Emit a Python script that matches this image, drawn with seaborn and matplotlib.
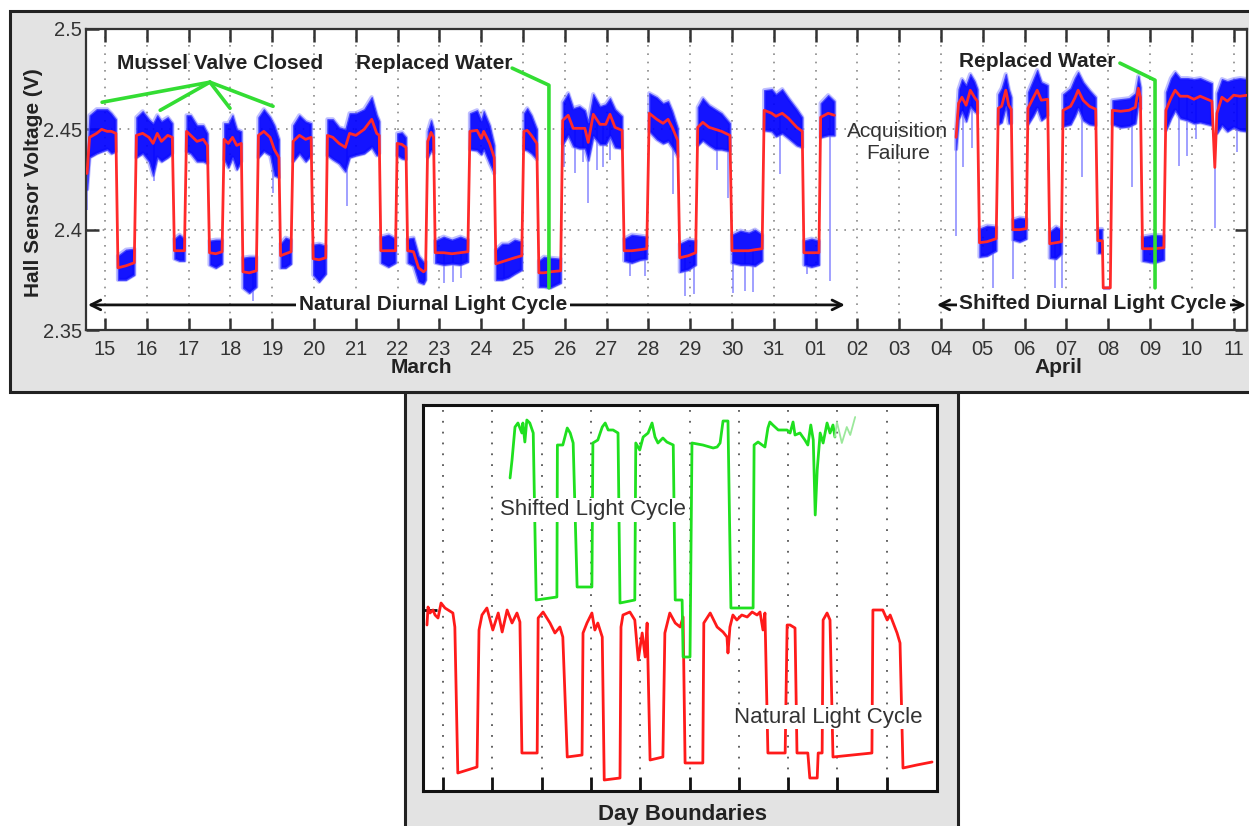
import numpy as np
import matplotlib
matplotlib.use("Agg")
import matplotlib.pyplot as plt
import matplotlib.transforms as mtransforms
from matplotlib.patches import Rectangle
import seaborn as sns

sns.set_style("white")
plt.rcParams["font.family"] = ["Liberation Sans", "DejaVu Sans"]

# ---------------------------------------------------------------------------
# Upper panel: Hall sensor voltage, 15 March - 11 April (day counted from 1 March)
# Smoothed trace (V) and spread of the raw samples above / below it (mV)
# ---------------------------------------------------------------------------
mar_day = [
    14.57, 14.63, 14.80, 14.92, 15.05, 15.15, 15.26,
    15.31, 15.50, 15.70,
    15.75, 15.90, 16.05, 16.15, 16.25, 16.35, 16.50, 16.61,
    16.66, 16.78, 16.90,
    16.95, 17.05, 17.20, 17.35, 17.45,
    17.50, 17.65, 17.80,
    17.85, 17.95, 18.05, 18.15, 18.26,
    18.30, 18.45, 18.62,
    18.67, 18.80, 18.95, 19.05, 19.16,
    19.20, 19.32, 19.45,
    19.50, 19.65, 19.80, 19.93,
    19.98, 20.12, 20.28,
    20.32, 20.45, 20.60, 20.75, 20.85, 21.00, 21.20, 21.38, 21.50, 21.56,
    21.60, 21.78, 21.95,
    21.99, 22.10, 22.20,
    22.24, 22.38, 22.50, 22.62, 22.67,
    22.72, 22.80, 22.86,
    22.90, 23.10, 23.30, 23.50, 23.68,
    23.73, 23.90, 24.00, 24.06, 24.20, 24.31,
    24.35, 24.50, 24.65, 24.80, 24.97,
    25.02, 25.10, 25.20, 25.33,
    25.38, 25.50, 25.65, 25.90,
    25.95, 26.08, 26.20, 26.35, 26.48, 26.56, 26.68, 26.84, 26.98, 27.08, 27.20, 27.37,
    27.42, 27.60, 27.80, 27.96,
    28.02, 28.20, 28.35, 28.47, 28.57, 28.70,
    28.75, 28.95, 29.13,
    29.18, 29.30, 29.45, 29.60, 29.75, 29.95,
    30.00, 30.20, 30.40, 30.55, 30.72,
    30.77, 30.95, 31.05, 31.20, 31.35, 31.55, 31.68,
    31.72, 31.90, 32.08,
    32.12, 32.30, 32.45,
]
mar_volt = [
    2.428, 2.446, 2.448, 2.450, 2.449, 2.449, 2.448,
    2.381, 2.382, 2.3835,
    2.447, 2.448, 2.446, 2.443, 2.448, 2.444, 2.447, 2.446,
    2.3895, 2.3895, 2.3895,
    2.449, 2.447, 2.444, 2.445, 2.442,
    2.3885, 2.388, 2.389,
    2.445, 2.443, 2.446, 2.442, 2.443,
    2.379, 2.3785, 2.3795,
    2.447, 2.449, 2.446, 2.440, 2.436,
    2.387, 2.388, 2.389,
    2.444, 2.447, 2.445, 2.446,
    2.3855, 2.385, 2.386,
    2.447, 2.446, 2.443, 2.441, 2.448, 2.447, 2.450, 2.455, 2.448, 2.447,
    2.3895, 2.3895, 2.3895,
    2.443, 2.4425, 2.441,
    2.3895, 2.389, 2.381, 2.379, 2.380,
    2.444, 2.4485, 2.446,
    2.3885, 2.3885, 2.388, 2.3885, 2.389,
    2.449, 2.4495, 2.4455, 2.449, 2.443, 2.436,
    2.383, 2.384, 2.385, 2.386, 2.387,
    2.449, 2.4495, 2.447, 2.443,
    2.3785, 2.3785, 2.379, 2.3795,
    2.4545, 2.457, 2.4505, 2.4505, 2.4505, 2.4435, 2.4575, 2.4525, 2.4525, 2.4575, 2.451, 2.4495,
    2.3895, 2.3895, 2.390, 2.3905,
    2.458, 2.455, 2.453, 2.455, 2.451, 2.4445,
    2.386, 2.387, 2.3885,
    2.451, 2.4535, 2.451, 2.450, 2.449, 2.447,
    2.3895, 2.3895, 2.3895, 2.390, 2.3905,
    2.4595, 2.458, 2.4565, 2.458, 2.4555, 2.451, 2.449,
    2.3885, 2.3885, 2.3885,
    2.456, 2.458, 2.457,
]
mar_up = [
    5, 11, 12, 10, 11, 9, 7,
    6, 8, 7,
    9, 11, 9, 10, 9, 10, 9, 7,
    6, 8, 6,
    8, 10, 8, 7, 6,
    6, 7, 6,
    8, 10, 11, 8, 6,
    7, 8, 7,
    9, 11, 10, 12, 9,
    6, 8, 6,
    8, 10, 9, 7,
    7, 8, 6,
    8, 9, 8, 9, 10, 11, 10, 11, 9, 7,
    7, 8, 6,
    5, 6, 5,
    6, 7, 6, 5, 4,
    5, 6, 4,
    6, 8, 7, 8, 6,
    9, 10, 9, 10, 9, 6,
    7, 9, 8, 9, 7,
    9, 11, 10, 7,
    6, 8, 7, 6,
    9, 11, 10, 11, 9, 10, 10, 9, 10, 8, 9, 7,
    6, 8, 7, 6,
    10, 11, 10, 9, 8, 6,
    7, 8, 6,
    10, 12, 11, 10, 9, 6,
    8, 10, 9, 10, 7,
    10, 12, 11, 12, 10, 9, 7,
    6, 7, 6,
    7, 9, 7,
]
mar_dn = [
    8, 10, 10, 11, 9, 11, 9,
    6, 7, 6,
    11, 10, 12, 16, 12, 10, 11, 8,
    4, 5, 5,
    10, 9, 10, 11, 9,
    6, 7, 6,
    10, 12, 10, 12, 9,
    8, 10, 8,
    11, 10, 9, 13, 10,
    6, 7, 6,
    10, 9, 11, 9,
    8, 11, 8,
    10, 11, 10, 12, 12, 10, 12, 14, 11, 9,
    6, 8, 6,
    6, 7, 6,
    6, 7, 7, 6, 5,
    8, 9, 8,
    5, 6, 5, 6, 5,
    9, 10, 8, 9, 10, 8,
    8, 9, 9, 8, 7,
    9, 10, 9, 8,
    7, 7, 8, 6,
    12, 10, 9, 10, 10, 9, 11, 10, 10, 11, 10, 9,
    5, 6, 5, 5,
    9, 10, 10, 11, 10, 8,
    7, 7, 6,
    9, 9, 9, 10, 9, 8,
    6, 7, 7, 8, 6,
    10, 9, 10, 10, 10, 9, 8,
    6, 7, 6,
    10, 11, 10,
]

apr_day = [
    35.36, 35.42, 35.50, 35.60, 35.70, 35.80, 35.87,
    35.92, 36.10, 36.32,
    36.37, 36.45, 36.55, 36.62, 36.68,
    36.72, 36.88, 37.04,
    37.08, 37.20, 37.30, 37.40, 37.55,
    37.60, 37.75, 37.88,
    37.92, 38.10, 38.20, 38.28, 38.40, 38.55, 38.70,
    38.75, 38.86, 38.88, 39.05,
    39.10, 39.30, 39.50, 39.65, 39.72, 39.77,
    39.82, 40.10, 40.33,
    40.38, 40.50, 40.60, 40.72, 40.90, 41.05, 41.20, 41.48, 41.55, 41.60, 41.72, 41.85, 42.00, 42.15, 42.33,
]
apr_volt = [
    2.446, 2.463, 2.466, 2.462, 2.4695, 2.466, 2.464,
    2.3935, 2.394, 2.3955,
    2.4605, 2.4615, 2.4695, 2.462, 2.460,
    2.400, 2.400, 2.4005,
    2.4605, 2.4655, 2.4695, 2.4645, 2.465,
    2.393, 2.3935, 2.394,
    2.4595, 2.4615, 2.4655, 2.4695, 2.4645, 2.4615, 2.460,
    2.3945, 2.3945, 2.371, 2.371,
    2.4595, 2.459, 2.4595, 2.461, 2.4705, 2.466,
    2.3905, 2.3905, 2.391,
    2.4595, 2.4655, 2.4695, 2.4665, 2.4665, 2.465, 2.4665, 2.464, 2.431, 2.458, 2.466, 2.464, 2.467, 2.4665, 2.467,
]
apr_up = [
    3, 7, 9, 10, 8, 8, 6,
    7, 8, 6,
    7, 9, 8, 8, 6,
    5, 6, 5,
    8, 9, 10, 9, 7,
    6, 8, 6,
    8, 9, 10, 9, 9, 8, 6,
    6, 6, 0, 0,
    5, 6, 6, 7, 6, 5,
    6, 7, 6,
    9, 10, 9, 9, 9, 10, 9, 9, 0, 10, 9, 10, 8, 9, 8,
]
apr_dn = [
    6, 8, 7, 8, 8, 7, 6,
    7, 7, 6,
    8, 8, 8, 9, 7,
    5, 6, 5,
    8, 9, 9, 10, 8,
    7, 8, 6,
    8, 9, 9, 9, 10, 9, 8,
    6, 6, 0, 0,
    7, 8, 8, 8, 7, 6,
    6, 7, 6,
    10, 10, 10, 11, 12, 12, 13, 12, 0, 10, 14, 15, 16, 17, 18,
]

# isolated outlier samples (day, lowest voltage reached)
spike_day = [14.57, 16.18, 18.54, 19.02, 20.79, 23.10, 23.32, 23.52, 24.55, 25.97,
             26.24, 26.44, 26.56, 26.77, 26.91, 27.08, 27.56, 27.92, 28.59, 28.87,
             29.08, 29.64, 29.90, 30.02, 30.31, 30.50, 31.15, 31.80, 32.35,
             35.37, 35.53, 35.74, 36.24, 36.72, 37.56, 37.73, 37.90, 38.37, 39.57,
             40.70, 40.88, 41.10, 41.56, 42.07]
spike_tip = [2.410, 2.4245, 2.3645, 2.4185, 2.412, 2.3735, 2.374, 2.376, 2.376, 2.431,
             2.428, 2.4335, 2.4135, 2.4295, 2.431, 2.4345, 2.377, 2.377, 2.418, 2.367,
             2.368, 2.4295, 2.416, 2.3685, 2.3695, 2.369, 2.4275, 2.378, 2.3745,
             2.397, 2.431, 2.4405, 2.371, 2.3755, 2.4295, 2.371, 2.371, 2.426, 2.4215,
             2.4315, 2.4365, 2.445, 2.401, 2.4385]

tick_days = list(range(15, 43))
tick_labels = ["15", "16", "17", "18", "19", "20", "21", "22", "23", "24", "25", "26",
               "27", "28", "29", "30", "31", "01", "02", "03", "04", "05", "06", "07",
               "08", "09", "10", "11"]
volt_ticks = [2.35, 2.4, 2.45, 2.5]
volt_tick_labels = ["2.35", "2.4", "2.45", "2.5"]

# ---------------------------------------------------------------------------
# Lower panel: daily cycles aligned on day boundaries
# ---------------------------------------------------------------------------
nat_day = [
    0.675, 0.696, 0.736, 0.797, 0.838, 0.899, 0.96, 1.04, 1.20, 1.24,
    1.30, 1.69,
    1.73, 1.79, 1.89, 2.01, 2.12, 2.20, 2.30, 2.40, 2.50, 2.56,
    2.60, 2.91,
    2.93, 3.03, 3.17, 3.27, 3.37, 3.43,
    3.52, 3.82,
    3.84, 3.92, 4.02, 4.08, 4.14, 4.23,
    4.27, 4.59,
    4.61, 4.65, 4.79, 4.89, 4.96, 5.04, 5.10, 5.14,
    5.20, 5.46,
    5.50, 5.60, 5.71, 5.81, 5.87,
    5.91, 6.27,
    6.29, 6.42, 6.56, 6.68, 6.76, 6.78, 6.82, 6.88, 6.96, 7.06, 7.17, 7.27, 7.37, 7.43, 7.49, 7.53,
    7.59, 7.94,
    7.98, 8.04, 8.14,
    8.18, 8.40, 8.44, 8.59, 8.61, 8.69,
    8.71, 8.79, 8.85,
    8.91, 9.70,
    9.72, 9.92, 10.01, 10.07, 10.21, 10.27,
    10.33, 10.61, 10.92,
]
nat_volt = [
    2.4425, 2.4515, 2.4485, 2.450, 2.4475, 2.446, 2.4535, 2.451, 2.4485, 2.4415,
    2.3685, 2.3715,
    2.440, 2.4475, 2.451, 2.440, 2.4485, 2.439, 2.450, 2.4435, 2.4485, 2.444,
    2.3785, 2.3785,
    2.446, 2.449, 2.4435, 2.4385, 2.4415, 2.4365,
    2.3765, 2.3775,
    2.4385, 2.4435, 2.4485, 2.440, 2.4435, 2.4365,
    2.365, 2.366,
    2.4415, 2.4475, 2.449, 2.445, 2.425, 2.4385, 2.4265, 2.4435,
    2.375, 2.3765,
    2.4385, 2.4485, 2.4435, 2.4415, 2.4465,
    2.3735, 2.3735,
    2.4435, 2.4485, 2.4415, 2.439, 2.4365, 2.4285, 2.4415, 2.4475, 2.445, 2.4475, 2.4465, 2.449, 2.4475, 2.449, 2.440, 2.4485,
    2.3785, 2.3785,
    2.4425, 2.4425, 2.441,
    2.3785, 2.3785, 2.366, 2.366, 2.3785, 2.3785,
    2.445, 2.4485, 2.445,
    2.3765, 2.3785,
    2.450, 2.450, 2.445, 2.4475, 2.4385, 2.4335,
    2.371, 2.3725, 2.374,
]
shift_day = [
    2.36, 2.40, 2.46, 2.52, 2.60, 2.62, 2.66, 2.70, 2.76, 2.83,
    2.89, 3.31,
    3.32, 3.43, 3.52, 3.58, 3.64,
    3.72, 4.02,
    4.04, 4.14, 4.23, 4.29, 4.35, 4.45, 4.55,
    4.59, 4.89,
    4.91, 4.99, 5.06, 5.16, 5.24, 5.30, 5.36, 5.46, 5.54, 5.67,
    5.71, 5.85, 5.87, 6.01,
    6.05, 6.27, 6.48, 6.56, 6.62, 6.68, 6.78,
    6.84, 7.29,
    7.31, 7.39, 7.53, 7.59, 7.63, 7.69, 7.80, 7.98, 8.04, 8.10, 8.14, 8.24,
    8.34, 8.40, 8.46, 8.51, 8.55, 8.59, 8.65, 8.71, 8.79, 8.85, 8.91, 8.95,
]
shift_volt = [
    2.516, 2.525, 2.5415, 2.5435, 2.5385, 2.5435, 2.534, 2.545, 2.5435, 2.5385,
    2.455, 2.4565,
    2.5325, 2.5325, 2.541, 2.5385, 2.5335,
    2.4615, 2.4615,
    2.5335, 2.535, 2.5415, 2.5435, 2.540, 2.540, 2.5385,
    2.4535, 2.455,
    2.5335, 2.530, 2.5365, 2.5385, 2.5435, 2.5365, 2.5335, 2.536, 2.534, 2.5325,
    2.455, 2.455, 2.4265, 2.4265,
    2.5335, 2.5325, 2.531, 2.5315, 2.5335, 2.5445, 2.5445,
    2.451, 2.451,
    2.5325, 2.534, 2.5315, 2.541, 2.544, 2.5425, 2.540, 2.540, 2.5385, 2.544, 2.5375, 2.5385,
    2.535, 2.5325, 2.5425, 2.535, 2.4975, 2.520, 2.5385, 2.5335, 2.5435, 2.5385, 2.5425, 2.5365,
]
shift_tail_day = [8.95, 8.99, 9.09, 9.19, 9.26, 9.36]
shift_tail_volt = [2.5365, 2.544, 2.5335, 2.5415, 2.5375, 2.5465]
boundary_days = list(range(1, 11))

# ---------------------------------------------------------------------------
W, H = 1249, 826
fig = plt.figure(figsize=(W / 100, H / 100), dpi=100, facecolor="white")

PANEL = "#e3e3e3"
EDGE = "#222222"
TXT = "#222222"

# grey frames behind the two plots
fig.patches.append(Rectangle((405 / W, -0.02), 553 / W, 1 - 392 / H + 0.02,
                             transform=fig.transFigure, facecolor=PANEL,
                             edgecolor=EDGE, lw=2.2, zorder=-5))
fig.patches.append(Rectangle((10 / W, 1 - 392 / H), 1.02, 381 / H,
                             transform=fig.transFigure, facecolor=PANEL,
                             edgecolor=EDGE, lw=2.2, zorder=-5))

# ---------------------------- upper panel ---------------------------------
ax1 = fig.add_axes([86 / W, 1 - 330 / H, 1161 / W, 301 / H])
ax1.set_facecolor("white")


def draw_band(ax, day, volt, up, dn):
    day = np.asarray(day, float)
    volt = np.asarray(volt, float)
    hi = volt + np.asarray(up, float) / 1000.0
    lo = volt - np.asarray(dn, float) / 1000.0
    # open / closed transitions are not part of the noisy band
    breaks = np.where(np.abs(np.diff(volt)) > 0.02)[0] + 1
    for idx in np.split(np.arange(len(day)), breaks):
        if len(idx) < 2:
            continue
        # soft halo, then the dense core of the raw samples
        ax.fill_between(day[idx], lo[idx], hi[idx], facecolor="none",
                        edgecolor="#8c8cff", linewidth=3.0, alpha=0.55, zorder=1.8)
        ax.fill_between(day[idx], lo[idx], hi[idx], facecolor="#0000ff",
                        edgecolor="#4040ff", linewidth=1.0, alpha=0.92, zorder=2)


draw_band(ax1, mar_day, mar_volt, mar_up, mar_dn)
draw_band(ax1, apr_day, apr_volt, apr_up, apr_dn)

all_day = np.array(mar_day + apr_day)
all_volt = np.array(mar_volt + apr_volt)
spike_base = np.interp(spike_day, all_day, all_volt)
ax1.vlines(spike_day, spike_tip, spike_base, color="#7676ff", lw=1.3,
           alpha=0.75, zorder=1.5)

for d, v in ((mar_day, mar_volt), (apr_day, apr_volt)):
    sns.lineplot(x=d, y=v, ax=ax1, color="#ff2a2a", lw=2.0, sort=False,
                 estimator=None, zorder=4)

ax1.set_xlim(14.545, 42.32)
ax1.set_ylim(2.35, 2.5)
ax1.set_xticks(tick_days)
ax1.set_xticklabels(tick_labels)
ax1.set_yticks(volt_ticks)
ax1.set_yticklabels(volt_tick_labels)
ax1.tick_params(axis="both", direction="in", length=9, width=1.8, color="#333333",
                bottom=True, top=True, left=True, right=True,
                labelsize=14.5, labelcolor="#333333")
ax1.tick_params(axis="x", pad=7)
ax1.tick_params(axis="y", pad=3)
ax1.grid(True, linestyle=(0, (1, 4)), color="#8a8a8a", lw=1.2)
ax1.set_axisbelow(True)
for sp in ax1.spines.values():
    sp.set_color("#333333")
    sp.set_linewidth(1.6)
ax1.set_xlabel("")
ax1.set_ylabel("Hall Sensor Voltage (V)", fontsize=15, fontweight="bold", color=TXT)
ax1.yaxis.set_label_coords(-0.037, 0.49)

xmix = mtransforms.blended_transform_factory(ax1.transData, ax1.transAxes)
ax1.text(22.58, -0.126, "March", transform=xmix, ha="center", va="center",
         fontsize=15, fontweight="bold", color=TXT)
ax1.text(37.80, -0.126, "April", transform=xmix, ha="center", va="center",
         fontsize=15, fontweight="bold", color=TXT)

GREEN = "#33dd33"
apex = (17.51, 2.4735)
for end in [(14.93, 2.4635), (16.32, 2.4595), (17.99, 2.4605), (19.02, 2.4615)]:
    ax1.plot([apex[0], end[0]], [apex[1], end[1]], color=GREEN, lw=2.6,
             solid_capstyle="round", zorder=6)
ax1.plot([24.74, 25.62, 25.62], [2.4805, 2.472, 2.371], color=GREEN, lw=2.6, zorder=6)
ax1.plot([39.28, 40.12, 40.12], [2.483, 2.4745, 2.371], color=GREEN, lw=2.6, zorder=6)

bold = dict(fontsize=15, fontweight="bold", color=TXT, ha="center", va="center")
ax1.text(17.75, 2.483, "Mussel Valve Closed", zorder=7, **bold)
ax1.text(22.87, 2.483, "Replaced Water", zorder=7, **bold)
ax1.text(37.30, 2.484, "Replaced Water", zorder=7, **bold)
ax1.text(33.97, 2.4435, "Acquisition\nFailure", fontsize=15, color="#333333",
         ha="center", va="center", linespacing=1.15, zorder=7)

arrow = dict(arrowstyle="<->,head_length=0.7,head_width=0.35", color="#111111",
             lw=2.0, shrinkA=0, shrinkB=0)
ax1.annotate("", xy=(14.59, 2.3625), xytext=(32.70, 2.3625), arrowprops=arrow,
             zorder=6, annotation_clip=False)
ax1.annotate("", xy=(34.90, 2.3625), xytext=(42.30, 2.3625), arrowprops=arrow,
             zorder=6, annotation_clip=False)
box = dict(facecolor="white", edgecolor="none", pad=2)
ax1.text(22.85, 2.3628, "Natural Diurnal Light Cycle", bbox=box, zorder=8, **bold)
ax1.text(38.64, 2.3633, "Shifted Diurnal Light Cycle", bbox=box, zorder=8, **bold)

# ---------------------------- lower panel ---------------------------------
ax2 = fig.add_axes([423 / W, 1 - 791 / H, 514 / W, 386 / H])
ax2.set_facecolor("white")
sns.lineplot(x=nat_day, y=nat_volt, ax=ax2, color="#ff1a1a", lw=2.0, sort=False,
             estimator=None, zorder=3)
sns.lineplot(x=shift_day, y=shift_volt, ax=ax2, color="#1fe01f", lw=2.0, sort=False,
             estimator=None, zorder=4)
sns.lineplot(x=shift_tail_day, y=shift_tail_volt, ax=ax2, color="#9be89b", lw=1.3,
             sort=False, estimator=None, zorder=4)

ax2.set_xlim(0.594, 11.02)
ax2.set_ylim(2.3595, 2.5525)
ax2.set_xticks(boundary_days)
ax2.set_xticklabels([])
ax2.set_yticks([2.45])
ax2.set_yticklabels([])
ax2.tick_params(axis="both", direction="in", length=10, width=2.0, color="#111111",
                bottom=True, left=True, top=False, right=False)
ax2.xaxis.grid(True, linestyle=(0, (1, 5)), color="#555555", lw=1.3)
ax2.yaxis.grid(False)
ax2.set_axisbelow(True)
for sp in ax2.spines.values():
    sp.set_color("#111111")
    sp.set_linewidth(2.2)
ax2.set_xlabel("")
ax2.set_ylabel("")

ax2.text(4.04, 2.50, "Shifted Light Cycle", fontsize=16, color="#333333",
         ha="center", va="center", bbox=dict(facecolor="white", edgecolor="none", pad=1),
         zorder=6)
ax2.text(8.81, 2.3965, "Natural Light Cycle", fontsize=16, color="#333333",
         ha="center", va="center", bbox=dict(facecolor="white", edgecolor="none", pad=1),
         zorder=6)
ax2.text(0.504, -0.062, "Day Boundaries", transform=ax2.transAxes, fontsize=16,
         fontweight="bold", color=TXT, ha="center", va="center")

fig.savefig("out.png", dpi=100, facecolor="white")
